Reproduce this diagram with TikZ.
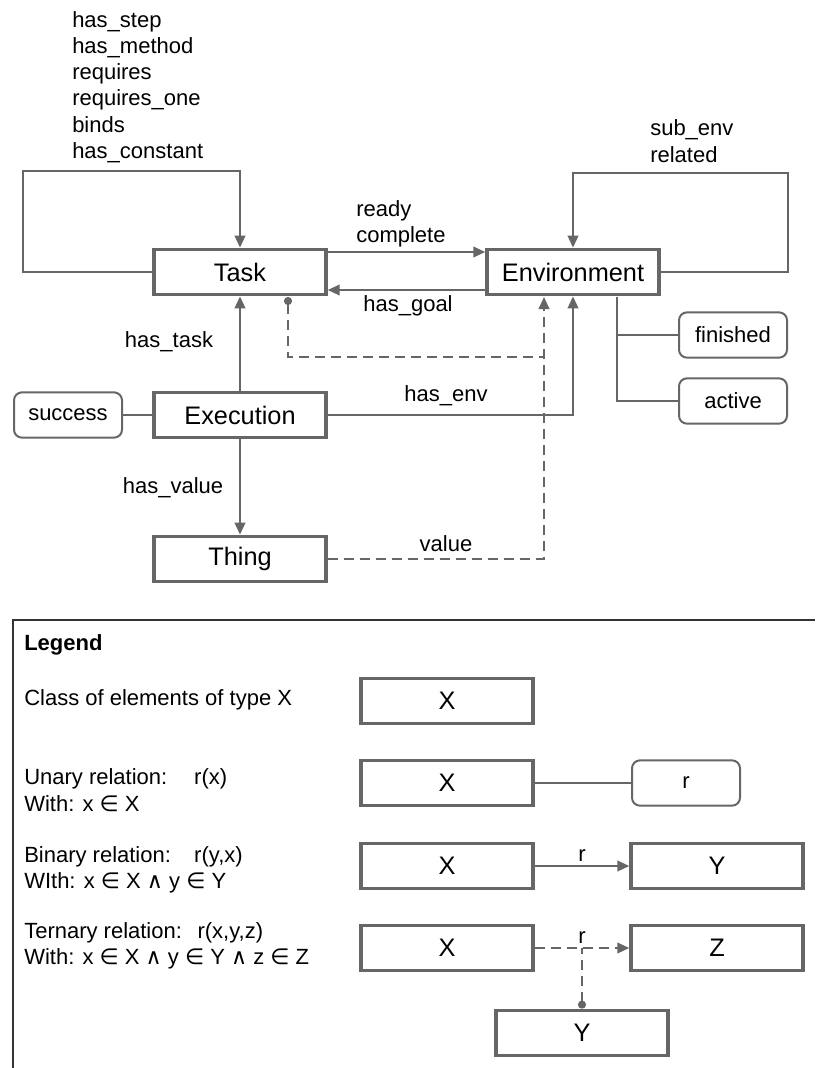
\documentclass[tikz,border=0pt]{standalone}
\usepackage{fontspec}
\setmainfont{Liberation Sans}
\newfontfamily\symfont{DejaVu Sans}
\usetikzlibrary{arrows.meta,positioning}
\definecolor{linegray}{HTML}{666666}
\newcommand{\inel}{{\symfont ∈}}
\newcommand{\andel}{{\symfont ∧}}

\begin{document}
\begin{tikzpicture}[x=0.75pt, y=-0.75pt,
    cls/.style={rectangle, draw=linegray, line width=2.6pt, fill=white, minimum width=129pt, minimum height=34pt, font=\fontsize{19}{22}\selectfont},
    prop/.style={rectangle, rounded corners=6pt, draw=linegray, line width=1.5pt, fill=white, minimum width=81pt, minimum height=34pt, font=\fontsize{16.5}{19.7}\selectfont},
    lbl/.style={font=\fontsize{16.5}{19.7}\selectfont, inner sep=0pt},
    line/.style={draw=linegray, line width=1.5pt},
    arr/.style={line, -{Triangle[length=9pt,width=8pt]}},
    dashline/.style={line, dash pattern=on 7.5pt off 4.5pt},
    dasharr/.style={dashline, -{Triangle[length=9pt,width=8pt]}}]
        \useasboundingbox (0,0) rectangle (815,1068);

        % classes and properties
        \node[cls] (task) at (240,272) {Task};
        \node[cls] (env) at (573,272) {Environment};
        \node[cls] (exec) at (240,415) {Execution};
        \node[cls] (thing) at (240,559) {Thing};
        \node[prop] (success) at (68,415) {success};
        \node[prop] (finished) at (733,335) {finished};
        \node[prop] (active) at (733,401) {active};

        % relation names
        \node[lbl, align=left, anchor=west] (taskrels) at (72,87) {has\_step\\has\_method\\requires\\requires\_one\\binds\\has\_constant};
        \node[lbl, align=left, anchor=west] (envrels) at (650,141) {sub\_env\\related};
        \node[lbl, align=left, anchor=west] (readyrels) at (356,224) {ready\\complete};
        \node[lbl] (goalrel) at (408,306) {has\_goal};
        \node[lbl] (taskrel) at (169,342) {has\_task};
        \node[lbl] (valuerel) at (173,488) {has\_value};
        \node[lbl] (envrel) at (446,396) {has\_env};
        \node[lbl] (valrel) at (446,544) {value};

        \draw[arr] (task.west) -| (23,171) -| (task.north);
        \draw[arr] (env.east) -| (788,173) -| (env.north);
        \draw[arr] ([yshift=15pt]task.east) -- ([yshift=15pt]env.west);
        \draw[arr] ([yshift=-13.5pt]env.west) -- ([yshift=-13.5pt]task.east);
        \draw[arr] (exec) -- (task);
        \draw[arr] (exec) -- (thing);
        \draw[line] (success) -- (exec);
        \draw[arr] (exec.east) -| (env.south);
        \coordinate (envfork) at (617,297);
        \draw[line] (envfork) |- (finished.west);
        \draw[line] (envfork) |- (active.west);
        \coordinate (taskdot) at (288,297);
        \coordinate (dashjoin) at (544,357);
        \coordinate (envdash) at (544,297);
        \draw[dasharr] (thing.east) -| (envdash);
        \draw[dashline, {Circle[length=6pt]}-] (taskdot) |- (dashjoin);

        % legend
        \draw[black!80, line width=0.8pt] (13,1068) -- (13,620) -- (815,620);
        \node[lbl, anchor=west, font=\fontsize{16.5}{19.7}\selectfont\bfseries] (legtitle) at (24,645) {Legend};
        \node[lbl, anchor=west] (legclass) at (24,700) {Class of elements of type X};
        \node[lbl, anchor=west, align=left] (legunary) at (24,790) {\makebox[127.5pt][l]{Unary relation:}r(x)\\With: x \inel{} X};
        \node[lbl, anchor=west, align=left] (legbinary) at (24,870) {\makebox[127.5pt][l]{Binary relation:}r(y,x)\\WIth: x \inel{} X \andel{} y \inel{} Y};
        \node[lbl, anchor=west, align=left] (legternary) at (24,946) {\makebox[130pt][l]{Ternary relation:}r(x,y,z)\\With: x \inel{} X \andel{} y \inel{} Y \andel{} z \inel{} Z};

        \node[cls] (lx1) at (447,701) {X};
        \node[cls] (lx2) at (447,783) {X};
        \node[prop] (lr) at (686,783) {r};
        \node[cls] (lx3) at (447,866) {X};
        \node[cls] (ly3) at (717,866) {Y};
        \node[cls] (lx4) at (447,948) {X};
        \node[cls] (lz4) at (717,948) {Z};
        \node[cls] (ly4) at (582,1033) {Y};
        \draw[line] (lx2) -- (lr);
        \draw[arr] (lx3) -- node[lbl, above=3pt] (rbin) {r} (ly3);
        \draw[dasharr] (lx4) -- node[lbl, above=3pt] (rter) {r} (lz4);
        \draw[dashline, {Circle[length=6pt]}-] (ly4.north) -- (ly4.north |- lz4.west);
    \end{tikzpicture}
\end{document}
